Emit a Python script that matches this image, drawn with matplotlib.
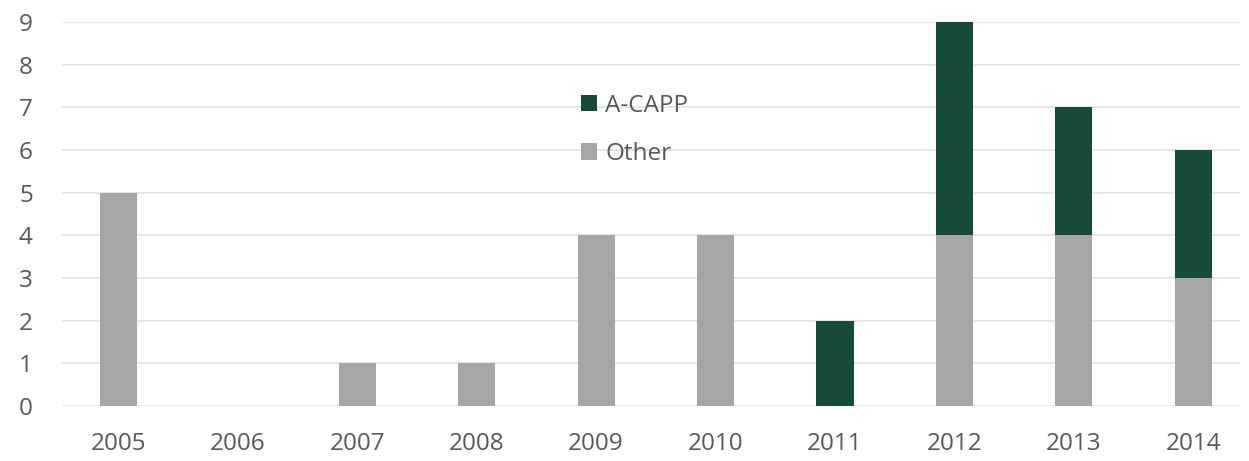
import matplotlib.pyplot as plt
import numpy as np

plt.rcParams['font.family'] = ['Open Sans', 'DejaVu Sans']

years = ['2005', '2006', '2007', '2008', '2009', '2010', '2011', '2012', '2013', '2014']
other = [5, 0, 1, 1, 4, 4, 0, 4, 4, 3]
acapp = [0, 0, 0, 0, 0, 0, 2, 5, 3, 3]

green = '#174a3b'
gray = '#a6a6a6'
text_col = '#595959'

fig = plt.figure(figsize=(12.49, 4.61), dpi=100)
ax = fig.add_axes([62 / 1249, 55 / 461, (1240 - 62) / 1249, (406 - 22) / 461])

x = np.arange(len(years))
ax.bar(x, other, width=0.31, color=gray, label='Other', zorder=3)
ax.bar(x, acapp, width=0.31, bottom=other, color=green, label='A-CAPP', zorder=3)

ax.set_xlim(-0.47, 9.39)
ax.set_ylim(0, 9)
ax.set_yticks(range(10))
ax.set_xticks(x)
ax.set_xticklabels(years)
ax.grid(axis='y', color='#e3e3e3', linewidth=1.2, zorder=0)
for s in ax.spines.values():
    s.set_visible(False)
ax.tick_params(length=0, labelsize=17.5, colors=text_col)
ax.tick_params(axis='y', pad=21)
ax.tick_params(axis='x', pad=19)

h, l = ax.get_legend_handles_labels()
leg = ax.legend(h[::-1], l[::-1], loc='upper left', bbox_to_anchor=(0.422, 0.87),
                frameon=False, fontsize=17.5, handlelength=0.65, handleheight=0.65,
                handletextpad=0.35, labelspacing=1.0, labelcolor=text_col)

fig.savefig('out.png', dpi=100)
